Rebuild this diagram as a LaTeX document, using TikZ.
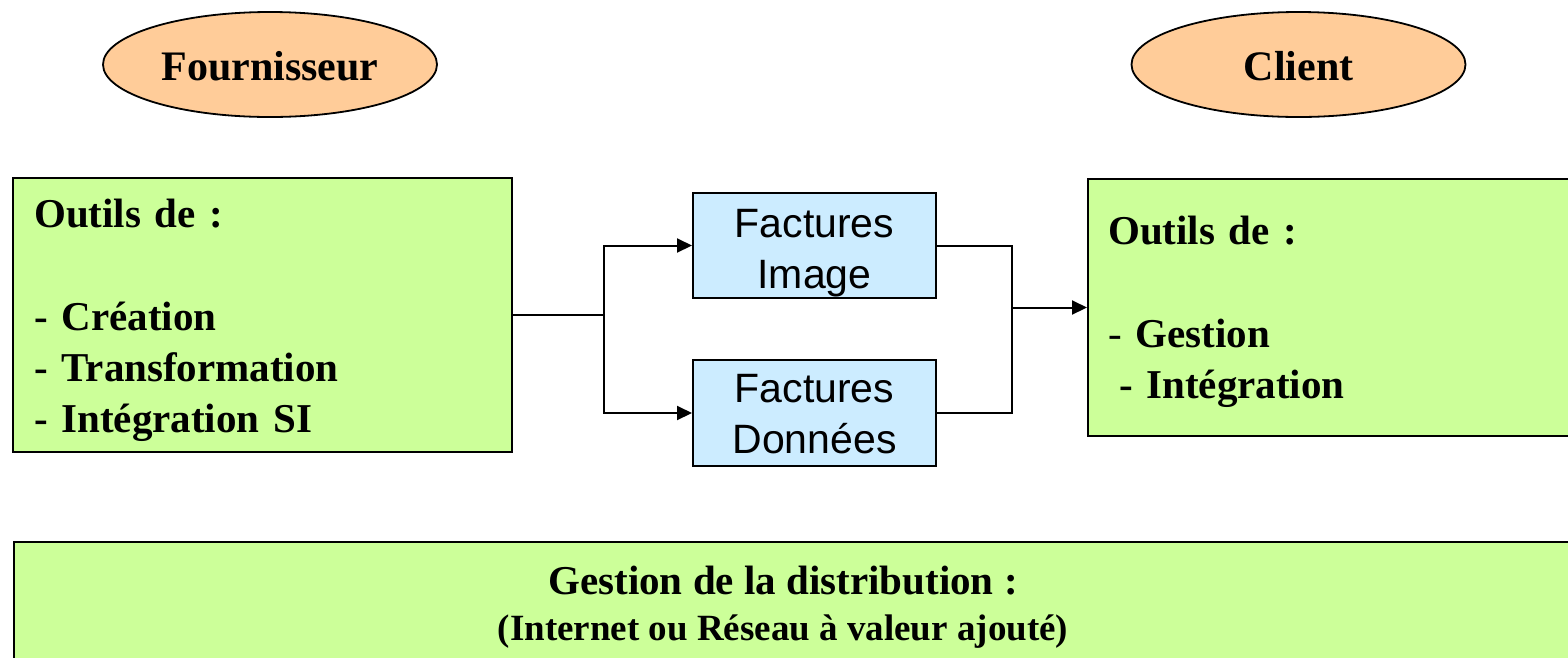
\documentclass[tikz,border=0pt]{standalone}
\usepackage{fontspec}
\setmainfont{Liberation Serif}
\newfontfamily\arialfont{Liberation Sans}
\usetikzlibrary{shapes.geometric,arrows.meta}

\definecolor{peach}{HTML}{FFCC99}
\definecolor{lime}{HTML}{CCFF99}
\definecolor{sky}{HTML}{CCECFF}

\tikzset{
  role/.style={ellipse, draw=black, line width=1.8pt, fill=peach,
    minimum width=334pt, minimum height=105pt, inner sep=0pt,
    font=\fontsize{42}{50}\selectfont\bfseries,
    text height=32pt, text depth=0pt},
  toolbox/.style={rectangle, draw=black, line width=2pt, fill=lime, inner sep=0pt},
  invoice/.style={rectangle, draw=black, line width=2pt, fill=sky,
    minimum width=243pt, inner sep=0pt},
  boldtxt/.style={inner sep=0pt, font=\fontsize{41}{51}\selectfont\bfseries},
  sanstxt/.style={inner sep=0pt, align=center, text width=240pt,
    font=\arialfont\fontsize{41}{51}\selectfont},
  flow/.style={draw=black, line width=2pt},
  tip/.style={-{Triangle[length=15pt,width=14pt]}},
}

\begin{document}
\begin{tikzpicture}[x=1pt,y=-1pt]
\useasboundingbox (0,0) rectangle (1568,657);
\clip (0,0) rectangle (1568,657);

% the two parties
\node[role] (four) at (270,64.5) {Fournisseur};
\node[role] (client) at (1298.5,64.5) {Client};

% supplier tools
\node[toolbox, minimum width=499pt, minimum height=274pt] (lbox) at (262.5,315) {};
\node[boldtxt, anchor=base west, text width=470pt, align=left] (lbox-t) at (34,227)
  {Outils de :\\[52pt]- Création\\- Transformation\\- Intégration SI};

% the two kinds of invoices
\node[invoice, minimum height=105pt] (fimg) at (814.5,245.5) {};
\node[sanstxt, anchor=base] (fimg-t) at (814.5,237) {Factures\\Image};
\node[invoice, minimum height=106pt] (fdon) at (814.5,413) {};
\node[sanstxt, anchor=base] (fdon-t) at (814.5,402) {Factures\\Données};

% customer tools
\node[toolbox, anchor=north west, minimum width=500pt, minimum height=257pt] (rbox) at (1087,178) {};
\node[boldtxt, anchor=base west, text width=440pt, align=left] (rbox-t) at (1108,244)
  {Outils de :\\[52pt]{\mdseries -} Gestion\\\hspace*{11pt}- Intégration};

% distribution layer
\node[toolbox, anchor=north west, minimum width=1580pt, minimum height=140pt] (dist) at (13,541) {};
\node[boldtxt, anchor=base] (dist-t1) at (783,594) {Gestion de la distribution :};
\node[inner sep=0pt, anchor=base, font=\fontsize{37}{44}\selectfont\bfseries] (dist-t2) at (783,640)
  {(Internet ou Réseau à valeur ajouté)};

% connectors
\path (lbox.east) ++(91,0) coordinate (split);
\path (rbox.west) ++(-75,0) coordinate (merge);
\draw[flow] (lbox.east) -- (split);
\draw[flow, tip] (split) |- (fimg.west);
\draw[flow, tip] (split) |- (fdon.west);
\draw[flow] (fimg.east) -| (merge |- fdon.east) -- (fdon.east);
\draw[flow, tip] (merge) -- (rbox.west);
\end{tikzpicture}
\end{document}
